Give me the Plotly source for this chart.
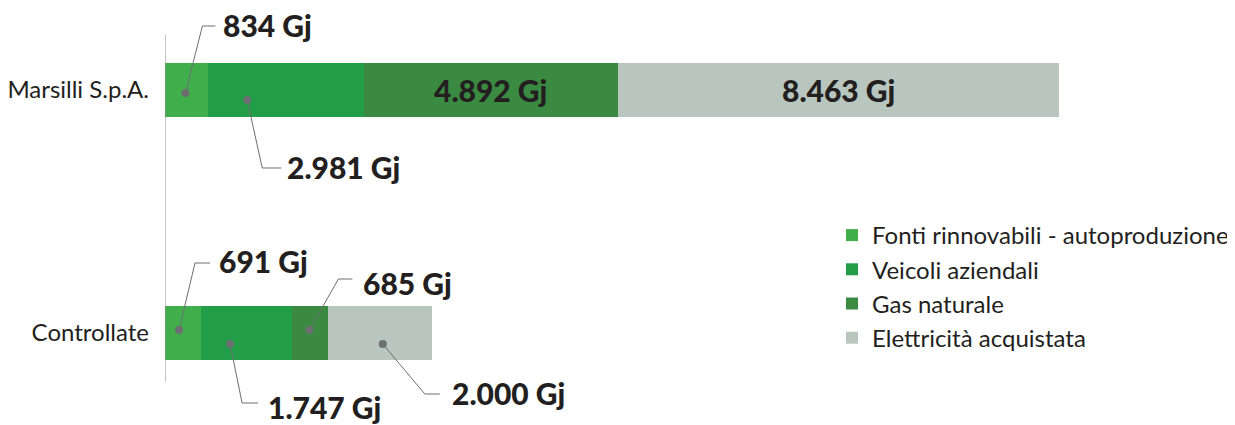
import plotly.graph_objects as go

# ---------------- data ----------------
categories = ["Controllate", "Marsilli S.p.A."]
y_pos = [0, 1]
series_names = ["Fonti rinnovabili - autoproduzione", "Veicoli aziendali",
                "Gas naturale", "Elettricità acquistata"]
fonti = [691, 834]
veicoli = [1747, 2981]
gas = [685, 4892]
elettricita = [2000, 8463]
colors = ["#40AE4A", "#239E48", "#3A8A42", "#B8C6BF"]

series = [fonti, veicoli, gas, elettricita]

def fmt(v):
    return f"{v:,}".replace(",", ".") + " Gj"

# ---------------- layout constants (page has an 8px body margin) ----------------
W, H = 1227, 417
ML, MR = 157, 176
plot_w = W - ML - MR
xmax = max(sum(s[i] for s in series) for i in range(len(categories)))
yrange = [-0.3786, 1.3374]
ux = xmax / plot_w                      # data units per px (x)
uy = (yrange[1] - yrange[0]) / H        # data units per px (y)

TXT = "#231F20"
GREY = "#6D6E71"
VAL_FONT = dict(family="Lato", size=30, color=TXT, weight=900)

fig = go.Figure()
for name, vals, col in zip(series_names, series, colors):
    fig.add_trace(go.Bar(x=vals, y=y_pos, orientation="h", name=name,
                         marker=dict(color=col, line=dict(width=0)),
                         width=0.222, legendgroup=name, hoverinfo="skip"))

def seg(ci, si):
    start = sum(series[k][ci] for k in range(si))
    return start, series[si][ci]

# leader specs: (category, series, frac, dot_dy, elbow_dx, elbow_dy, tail, gap, label_dy)
leaders = [
    (1, 0, 0.47, 3, 17, -67, 13, 6, -1),
    (1, 1, 0.25, 10, 15, 68, 19, 4, -1),
    (0, 0, 0.39, -3, 16, -67, 15, 7, -2),
    (0, 1, 0.32, 11, 12, 59, 16, 8, 4),
    (0, 2, 0.49, -3, 29, -51, 14, 9, 4),
    (0, 3, 0.53, 11, 42, 50, 15, 10, -1),
]

lx, ly, dx_, dy_ = [], [], [], []
for ci, si, frac, ddy, edx, edy, tail, gap, ldy in leaders:
    s0, w = seg(ci, si)
    px = s0 + frac * w
    py = y_pos[ci] - ddy * uy
    ex = px + edx * ux
    ey = py - edy * uy
    tx = ex + tail * ux
    lx += [px, ex, tx, None]
    ly += [py, ey, ey, None]
    dx_.append(px)
    dy_.append(py)
    fig.add_annotation(x=tx + gap * ux, y=ey - ldy * uy, xref="x", yref="y",
                       text=fmt(series[si][ci]), showarrow=False,
                       xanchor="left", yanchor="middle", font=VAL_FONT)

fig.add_trace(go.Scatter(x=lx, y=ly, mode="lines", line=dict(color=GREY, width=1),
                         showlegend=False, hoverinfo="skip"))
fig.add_trace(go.Scatter(x=dx_, y=dy_, mode="markers", marker=dict(color=GREY, size=8),
                         showlegend=False, hoverinfo="skip"))

for ci, si in [(1, 2), (1, 3)]:
    s0, w = seg(ci, si)
    fig.add_annotation(x=s0 + w / 2, y=y_pos[ci], xref="x", yref="y",
                       text=fmt(series[si][ci]), showarrow=False, font=VAL_FONT)

fig.add_shape(type="line", x0=0, x1=0, y0=y_pos[0] - 49 * uy, y1=y_pos[1] + 55 * uy,
              xref="x", yref="y", line=dict(color="#8A8A8A", width=1))

fig.update_layout(
    width=W, height=H, barmode="stack",
    margin=dict(l=ML, r=MR, t=0, b=0, autoexpand=False),
    paper_bgcolor="white", plot_bgcolor="white",
    xaxis=dict(range=[0, xmax], visible=False, fixedrange=True, automargin=False),
    yaxis=dict(range=yrange, tickvals=y_pos, ticktext=categories, showgrid=False,
               zeroline=False, showline=False, ticks="", ticklabelstandoff=15,
               automargin=False, fixedrange=True,
               tickfont=dict(family="Lato", size=24, color=TXT)),
    legend=dict(x=(824 - ML) / plot_w, y=1 - 205 / H, xanchor="left", yanchor="top",
                traceorder="normal", font=dict(family="Lato", size=24, color=TXT),
                tracegroupgap=3, bgcolor="rgba(0,0,0,0)"),
    showlegend=True,
)

fig.write_html("out.html")
